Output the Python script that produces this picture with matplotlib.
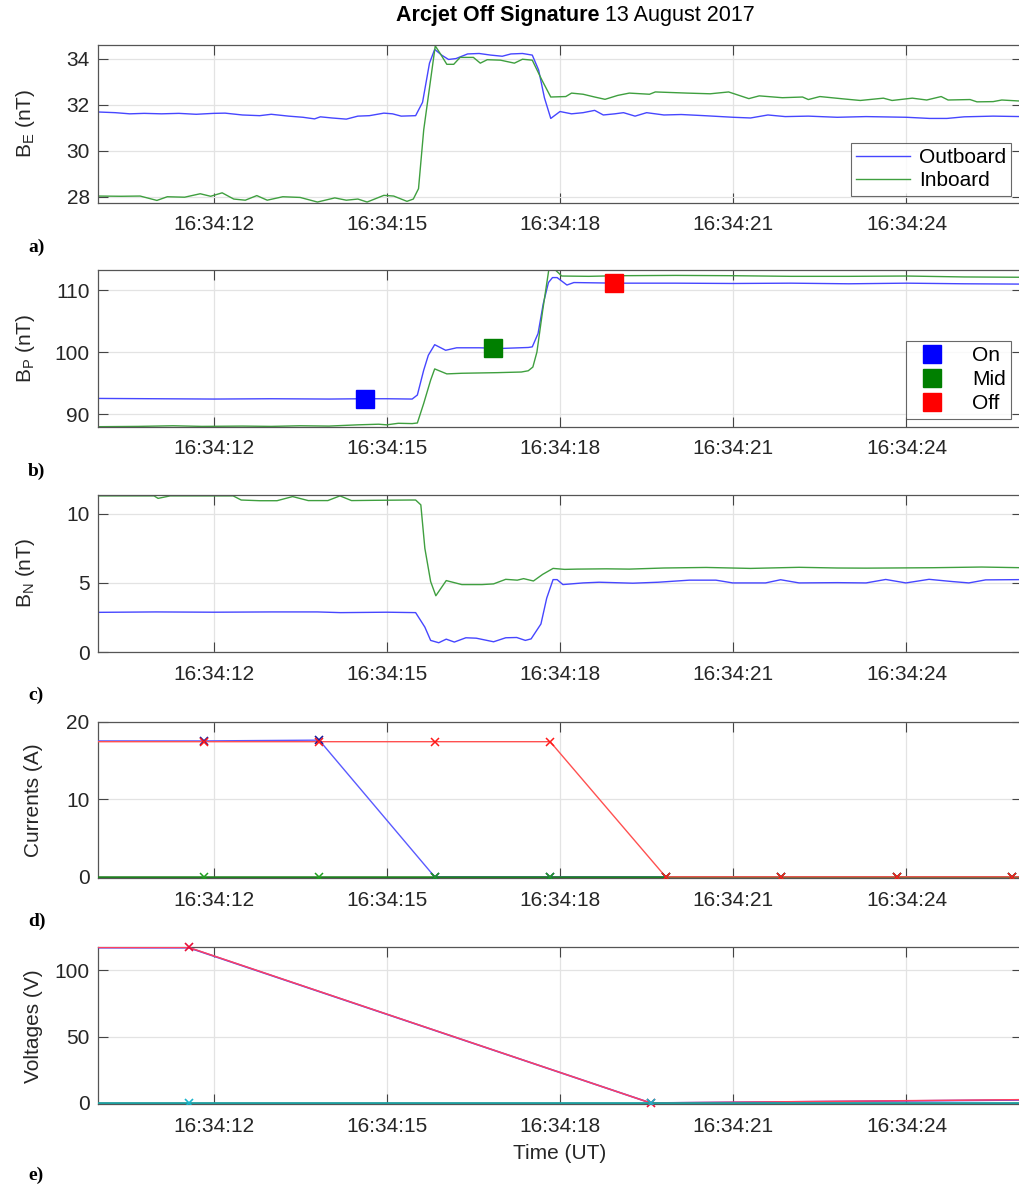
import numpy as np
import matplotlib
matplotlib.use("Agg")
import matplotlib.pyplot as plt
from matplotlib.ticker import FixedLocator, FuncFormatter
from matplotlib.lines import Line2D

plt.rcParams['font.family'] = ['Liberation Sans', 'DejaVu Sans']
plt.rcParams['mathtext.fontset'] = 'custom'
plt.rcParams['mathtext.rm'] = 'Liberation Sans'
plt.rcParams['mathtext.it'] = 'Liberation Sans:italic'

# ---- data (time in seconds after 16:34:00 UT) ----
# a) B_E
be_out_t = [10.0, 10.3, 10.55, 10.8, 11.1, 11.4, 11.7, 12.0, 12.2, 12.5, 12.8, 13.0, 13.3, 13.55,
            13.75, 13.85, 14.05, 14.3, 14.5, 14.7, 14.95, 15.1, 15.25, 15.5, 15.62, 15.74, 15.83,
            15.95, 16.07, 16.2, 16.4, 16.6, 16.8, 17.0, 17.15, 17.35, 17.52, 17.63, 17.73, 17.84,
            18.0, 18.2, 18.4, 18.6, 18.75, 18.95, 19.1, 19.3, 19.5, 19.8, 20.1, 20.5, 21.0, 21.3,
            21.6, 21.9, 22.3, 22.8, 23.3, 24.0, 24.4, 24.7, 25.0, 25.5, 26.0]
be_out = [31.68, 31.65, 31.6, 31.62, 31.6, 31.62, 31.58, 31.62, 31.63, 31.55, 31.52, 31.58, 31.5, 31.45,
          31.38, 31.47, 31.42, 31.37, 31.5, 31.52, 31.63, 31.6, 31.5, 31.52, 32.1, 33.8, 34.4,
          34.15, 33.96, 34.0, 34.2, 34.22, 34.15, 34.1, 34.2, 34.22, 34.15, 33.5, 32.3, 31.4,
          31.7, 31.6, 31.65, 31.75, 31.55, 31.6, 31.65, 31.5, 31.65, 31.55, 31.57, 31.52, 31.45, 31.42,
          31.55, 31.48, 31.5, 31.45, 31.48, 31.45, 31.4, 31.4, 31.47, 31.5, 31.48]
be_in_t = [10.0, 10.4, 10.73, 11.02, 11.2, 11.5, 11.77, 11.95, 12.15, 12.35, 12.55, 12.75, 12.93, 13.2,
           13.5, 13.8, 14.1, 14.3, 14.5, 14.66, 14.95, 15.12, 15.35, 15.46, 15.55, 15.64, 15.84,
           15.93, 16.04, 16.16, 16.27, 16.5, 16.62, 16.74, 16.97, 17.21, 17.35, 17.52, 17.69, 17.84,
           18.1, 18.2, 18.4, 18.6, 18.78, 19.0, 19.2, 19.55, 19.65, 20.2, 20.6, 20.92, 21.27, 21.45,
           21.85, 22.2, 22.3, 22.5, 22.9, 23.2, 23.6, 23.75, 24.1, 24.35, 24.6, 24.72, 25.1, 25.22,
           25.5, 25.65, 26.0]
be_in = [28.03, 28.02, 28.03, 27.84, 28.0, 27.98, 28.13, 28.02, 28.17, 27.9, 27.85, 28.05, 27.85, 28.0,
         27.97, 27.77, 27.95, 27.85, 27.9, 27.77, 28.06, 28.03, 27.8, 27.9, 28.35, 30.9, 34.55,
         34.2, 33.75, 33.75, 34.05, 34.05, 33.8, 33.95, 33.93, 33.8, 33.97, 33.93, 33.05, 32.33,
         32.35, 32.5, 32.45, 32.33, 32.23, 32.4, 32.5, 32.45, 32.55, 32.5, 32.47, 32.55, 32.26, 32.38,
         32.3, 32.33, 32.22, 32.35, 32.25, 32.18, 32.28, 32.18, 32.28, 32.2, 32.35, 32.2, 32.22, 32.12,
         32.13, 32.2, 32.15]

# b) B_P
bp_out_t = [10.0, 11.0, 12.0, 13.0, 14.0, 14.6, 15.0, 15.44, 15.53, 15.64, 15.72, 15.83, 16.02, 16.21,
            16.6, 17.0, 17.45, 17.52, 17.62, 17.71, 17.8, 17.87, 17.95, 18.12, 18.24, 19.0, 20.0,
            21.0, 22.0, 23.0, 24.0, 25.0, 26.0]
bp_out = [92.55, 92.5, 92.45, 92.5, 92.45, 92.5, 92.5, 92.45, 93.1, 97.1, 99.5, 101.2, 100.3, 100.7,
          100.7, 100.6, 100.75, 100.85, 103.0, 107.8, 111.2, 112.0, 112.0, 110.8, 111.2, 111.1, 111.1,
          111.05, 111.1, 111.0, 111.1, 111.0, 110.95]
bp_in_t = [10.0, 10.7, 11.3, 11.8, 12.5, 13.0, 13.5, 14.0, 14.5, 14.86, 15.0, 15.2, 15.44, 15.53,
           15.64, 15.76, 15.83, 16.04, 16.3, 16.92, 17.33, 17.45, 17.53, 17.6, 17.7, 17.81, 17.9,
           18.03, 18.5, 19.0, 20.0, 21.0, 22.0, 23.0, 24.0, 25.0, 26.0]
bp_in = [88.0, 88.05, 88.15, 88.05, 88.1, 88.05, 88.15, 88.1, 88.3, 88.4, 88.3, 88.55, 88.5, 88.6,
         91.75, 95.5, 97.3, 96.5, 96.6, 96.7, 96.8, 97.0, 97.6, 100.0, 106.7, 113.5, 113.4,
         112.25, 112.2, 112.3, 112.35, 112.3, 112.2, 112.2, 112.25, 112.1, 112.05]
state_t = [14.63, 16.84, 18.94]
state_v = [92.5, 100.6, 111.1]
state_names = ['On', 'Mid', 'Off']
state_colors = ['#0000ff', '#007f00', '#ff0000']

# c) B_N
bn_out_t = [10.0, 11.0, 12.0, 13.0, 13.8, 14.2, 15.0, 15.5, 15.66, 15.76, 15.9, 16.03, 16.17, 16.37,
            16.55, 16.85, 17.06, 17.25, 17.4, 17.5, 17.67, 17.77, 17.88, 17.95, 18.05, 18.4, 18.68,
            19.26, 19.7, 20.24, 20.7, 20.99, 21.56, 21.82, 22.14, 22.8, 23.3, 23.64, 23.99, 24.39,
            24.79, 25.08, 25.37, 26.0]
bn_out = [2.87, 2.9, 2.88, 2.9, 2.9, 2.85, 2.88, 2.85, 1.8, 0.84, 0.67, 0.93, 0.72, 1.03,
          1.0, 0.74, 1.03, 1.05, 0.84, 0.95, 2.03, 3.9, 5.24, 5.24, 4.88, 5.0, 5.05,
          4.98, 5.05, 5.2, 5.2, 5.0, 5.0, 5.23, 5.0, 5.02, 5.0, 5.25, 5.0, 5.26,
          5.1, 5.0, 5.22, 5.24]
bn_in_t = [10.0, 10.97, 11.04, 11.25, 12.34, 12.48, 12.8, 13.1, 13.37, 13.64, 13.98, 14.19, 14.39,
           14.8, 15.4, 15.5, 15.59, 15.66, 15.76, 15.85, 16.03, 16.3, 16.65, 16.85, 17.06, 17.26,
           17.37, 17.54, 17.7, 17.88, 18.08, 18.3, 18.8, 19.2, 19.8, 20.53, 21.3, 22.14, 22.8,
           23.3, 24.45, 25.3, 26.0]
bn_in = [11.3, 11.3, 11.12, 11.3, 11.3, 11.0, 10.95, 10.95, 11.25, 10.96, 10.96, 11.3, 10.96,
         10.98, 11.0, 11.0, 10.65, 7.5, 5.1, 4.07, 5.17, 4.88, 4.88, 4.93, 5.26, 5.2,
         5.31, 5.14, 5.62, 6.05, 5.98, 6.0, 6.02, 6.0, 6.08, 6.12, 6.05, 6.13, 6.08,
         6.07, 6.1, 6.15, 6.1]

# d) currents, sampled every 2 s
cur_t = [9.83, 11.83, 13.83, 15.83, 17.83, 19.83, 21.83, 23.83, 25.83, 27.83]
cur_blue = [17.5, 17.5, 17.6, 0, 0, 0, 0, 0, 0, 0]
cur_green = [0, 0, 0, 0, 0, 0, 0, 0, 0, 0]
cur_red = [17.4, 17.4, 17.4, 17.4, 17.4, 0, 0, 0, 0, 0]

# e) voltages, sampled every 8 s
volt_t = [3.57, 11.57, 19.57, 27.57]
volt_blue = [117.1, 117.0, 0.0, 2.8]
volt_red = [117.3, 117.2, 0.0, 3.1]
volt_teal = [0.0, 0.0, 0.0, 0.0]

x_ticks = [12, 15, 18, 21, 24]

BLUE = '#4646ff'
GREEN = '#3f9f3f'
TEXT = '#262626'

W, H = 1020, 1185
fig = plt.figure(figsize=(W / 100, H / 100), dpi=100)

def make_axes(top, height=157.5, left=98, right=1022):
    return fig.add_axes([left / W, 1 - (top + height) / H, (right - left) / W, height / H])

def style(ax, ylim, yticks):
    ax.set_xlim(10.0, 26.0)
    ax.set_ylim(*ylim)
    ax.xaxis.set_major_locator(FixedLocator(x_ticks))
    ax.xaxis.set_major_formatter(FuncFormatter(lambda v, p: f"16:34:{int(round(v)):02d}"))
    ax.set_yticks(yticks)
    ax.grid(True, color='#e3e3e3', lw=0.9)
    ax.set_axisbelow(True)
    ax.tick_params(direction='in', length=7, width=0.8, top=True, right=True,
                   colors='#444444', labelcolor=TEXT, labelsize=15)
    ax.tick_params(axis='x', pad=9)
    ax.tick_params(axis='y', pad=6)
    for s in ax.spines.values():
        s.set_color('#555555')
        s.set_linewidth(0.9)

label_font = dict(family=['Liberation Serif', 'DejaVu Serif'], weight='bold', size=14, color='black')

# a) B_E
axa = make_axes(44.5, 158)
axa.plot(be_out_t, be_out, color=BLUE, lw=1.0, label='Outboard')
axa.plot(be_in_t, be_in, color=GREEN, lw=1.0, label='Inboard')
style(axa, (27.75, 34.61), [28, 30, 32, 34])
axa.set_ylabel(r'B$_\mathrm{E}$ (nT)', fontsize=15, color=TEXT)
axa.yaxis.set_label_coords(-0.066, 0.5)
leg = axa.legend(loc='lower right', bbox_to_anchor=(1 - 11 / 924, 7 / 158), fontsize=15,
                 frameon=True, fancybox=False, handlelength=2.6, handletextpad=0.4,
                 borderpad=0.25, labelspacing=0.2, borderaxespad=0)
leg.get_frame().set_edgecolor('#444444')
leg.get_frame().set_linewidth(0.8)
fig.text(28 / W, 1 - 247 / H, 'a)', ha='left', va='center', **label_font)

# b) B_P
axb = make_axes(269.5, 157.2)
axb.plot(bp_out_t, bp_out, color=BLUE, lw=1.0)
axb.plot(bp_in_t, bp_in, color=GREEN, lw=1.0)
for tt, vv, cc in zip(state_t, state_v, state_colors):
    axb.plot([tt], [vv], 's', ms=13.5, color=cc, mec=cc, zorder=5)
style(axb, (88.0, 113.3), [90, 100, 110])
axb.set_ylabel(r'B$_\mathrm{P}$ (nT)', fontsize=15, color=TEXT)
axb.yaxis.set_label_coords(-0.066, 0.5)
handles = [Line2D([], [], ls='none', marker='s', ms=13.5, color=c, mec=c) for c in state_colors]
legb = axb.legend(handles, state_names, loc='lower right',
                  bbox_to_anchor=(1 - 11 / 924, 8 / 157), fontsize=15, frameon=True,
                  fancybox=False, handlelength=2.0, handletextpad=0.9, borderpad=0.25,
                  labelspacing=0.25, borderaxespad=0)
legb.get_frame().set_edgecolor('#444444')
legb.get_frame().set_linewidth(0.8)
fig.text(28 / W, 1 - 471 / H, 'b)', ha='left', va='center', **label_font)

# c) B_N
axc = make_axes(494.5, 157.5)
axc.plot(bn_out_t, bn_out, color=BLUE, lw=1.0)
axc.plot(bn_in_t, bn_in, color=GREEN, lw=1.0)
style(axc, (0, 11.4), [0, 5, 10])
axc.set_ylabel(r'B$_\mathrm{N}$ (nT)', fontsize=15, color=TEXT)
axc.yaxis.set_label_coords(-0.066, 0.5)
fig.text(28 / W, 1 - 695 / H, 'c)', ha='left', va='center', **label_font)

# d) currents
axd = make_axes(721.5, 156.5)
axd.plot(cur_t, cur_blue, color='#5a5aff', lw=1.0, zorder=3)
axd.plot(cur_t, cur_blue, ls='none', marker='x', ms=6, mew=1.2, color='#1c1c9a', zorder=4)
axd.plot(cur_t, cur_green, color='#1f7f1f', lw=1.8, zorder=3)
axd.plot(cur_t, cur_green, ls='none', marker='x', ms=6, mew=1.1, color='#1f9f1f', zorder=4)
axd.plot(cur_t, cur_red, color='#ff5050', lw=1.0, zorder=3)
axd.plot(cur_t, cur_red, ls='none', marker='x', ms=6, mew=1.1, color='#ff1a1a', zorder=4)
style(axd, (-0.15, 20), [0, 10, 20])
axd.set_ylabel('Currents (A)', fontsize=15, color=TEXT)
axd.yaxis.set_label_coords(-0.06, 0.5)
fig.text(28 / W, 1 - 921 / H, 'd)', ha='left', va='center', **label_font)

# e) voltages
axe = make_axes(947.3, 157.0)
axe.plot(volt_t, volt_blue, color='#4646ff', lw=1.2, zorder=3)
axe.plot(volt_t, volt_red, color='#ff4060', lw=1.1, zorder=3)
axe.plot(volt_t, volt_red, ls='none', marker='x', ms=6, mew=1.2, color='#e8103a', zorder=4,
         clip_on=False)
axe.plot(volt_t, volt_teal, color='#1e9e9e', lw=2.0, zorder=3)
axe.plot(volt_t, volt_teal, ls='none', marker='x', ms=6, mew=1.2, color='#19b5cc', zorder=4)
style(axe, (-1.0, 117.3), [0, 50, 100])
axe.set_ylabel('Voltages (V)', fontsize=15, color=TEXT)
axe.yaxis.set_label_coords(-0.06, 0.5)
axe.set_xlabel('Time (UT)', fontsize=15, color=TEXT, labelpad=6)
fig.text(28 / W, 1 - 1175 / H, 'e)', ha='left', va='center', **label_font)

# title
fig.text(600 / W, 1 - 15 / H, 'Arcjet Off Signature', ha='right', va='center',
         fontsize=15.5, weight='bold', color='black')
fig.text(605 / W, 1 - 15 / H, '13 August 2017', ha='left', va='center',
         fontsize=15.5, color='black')

fig.savefig('out.png', dpi=100)
